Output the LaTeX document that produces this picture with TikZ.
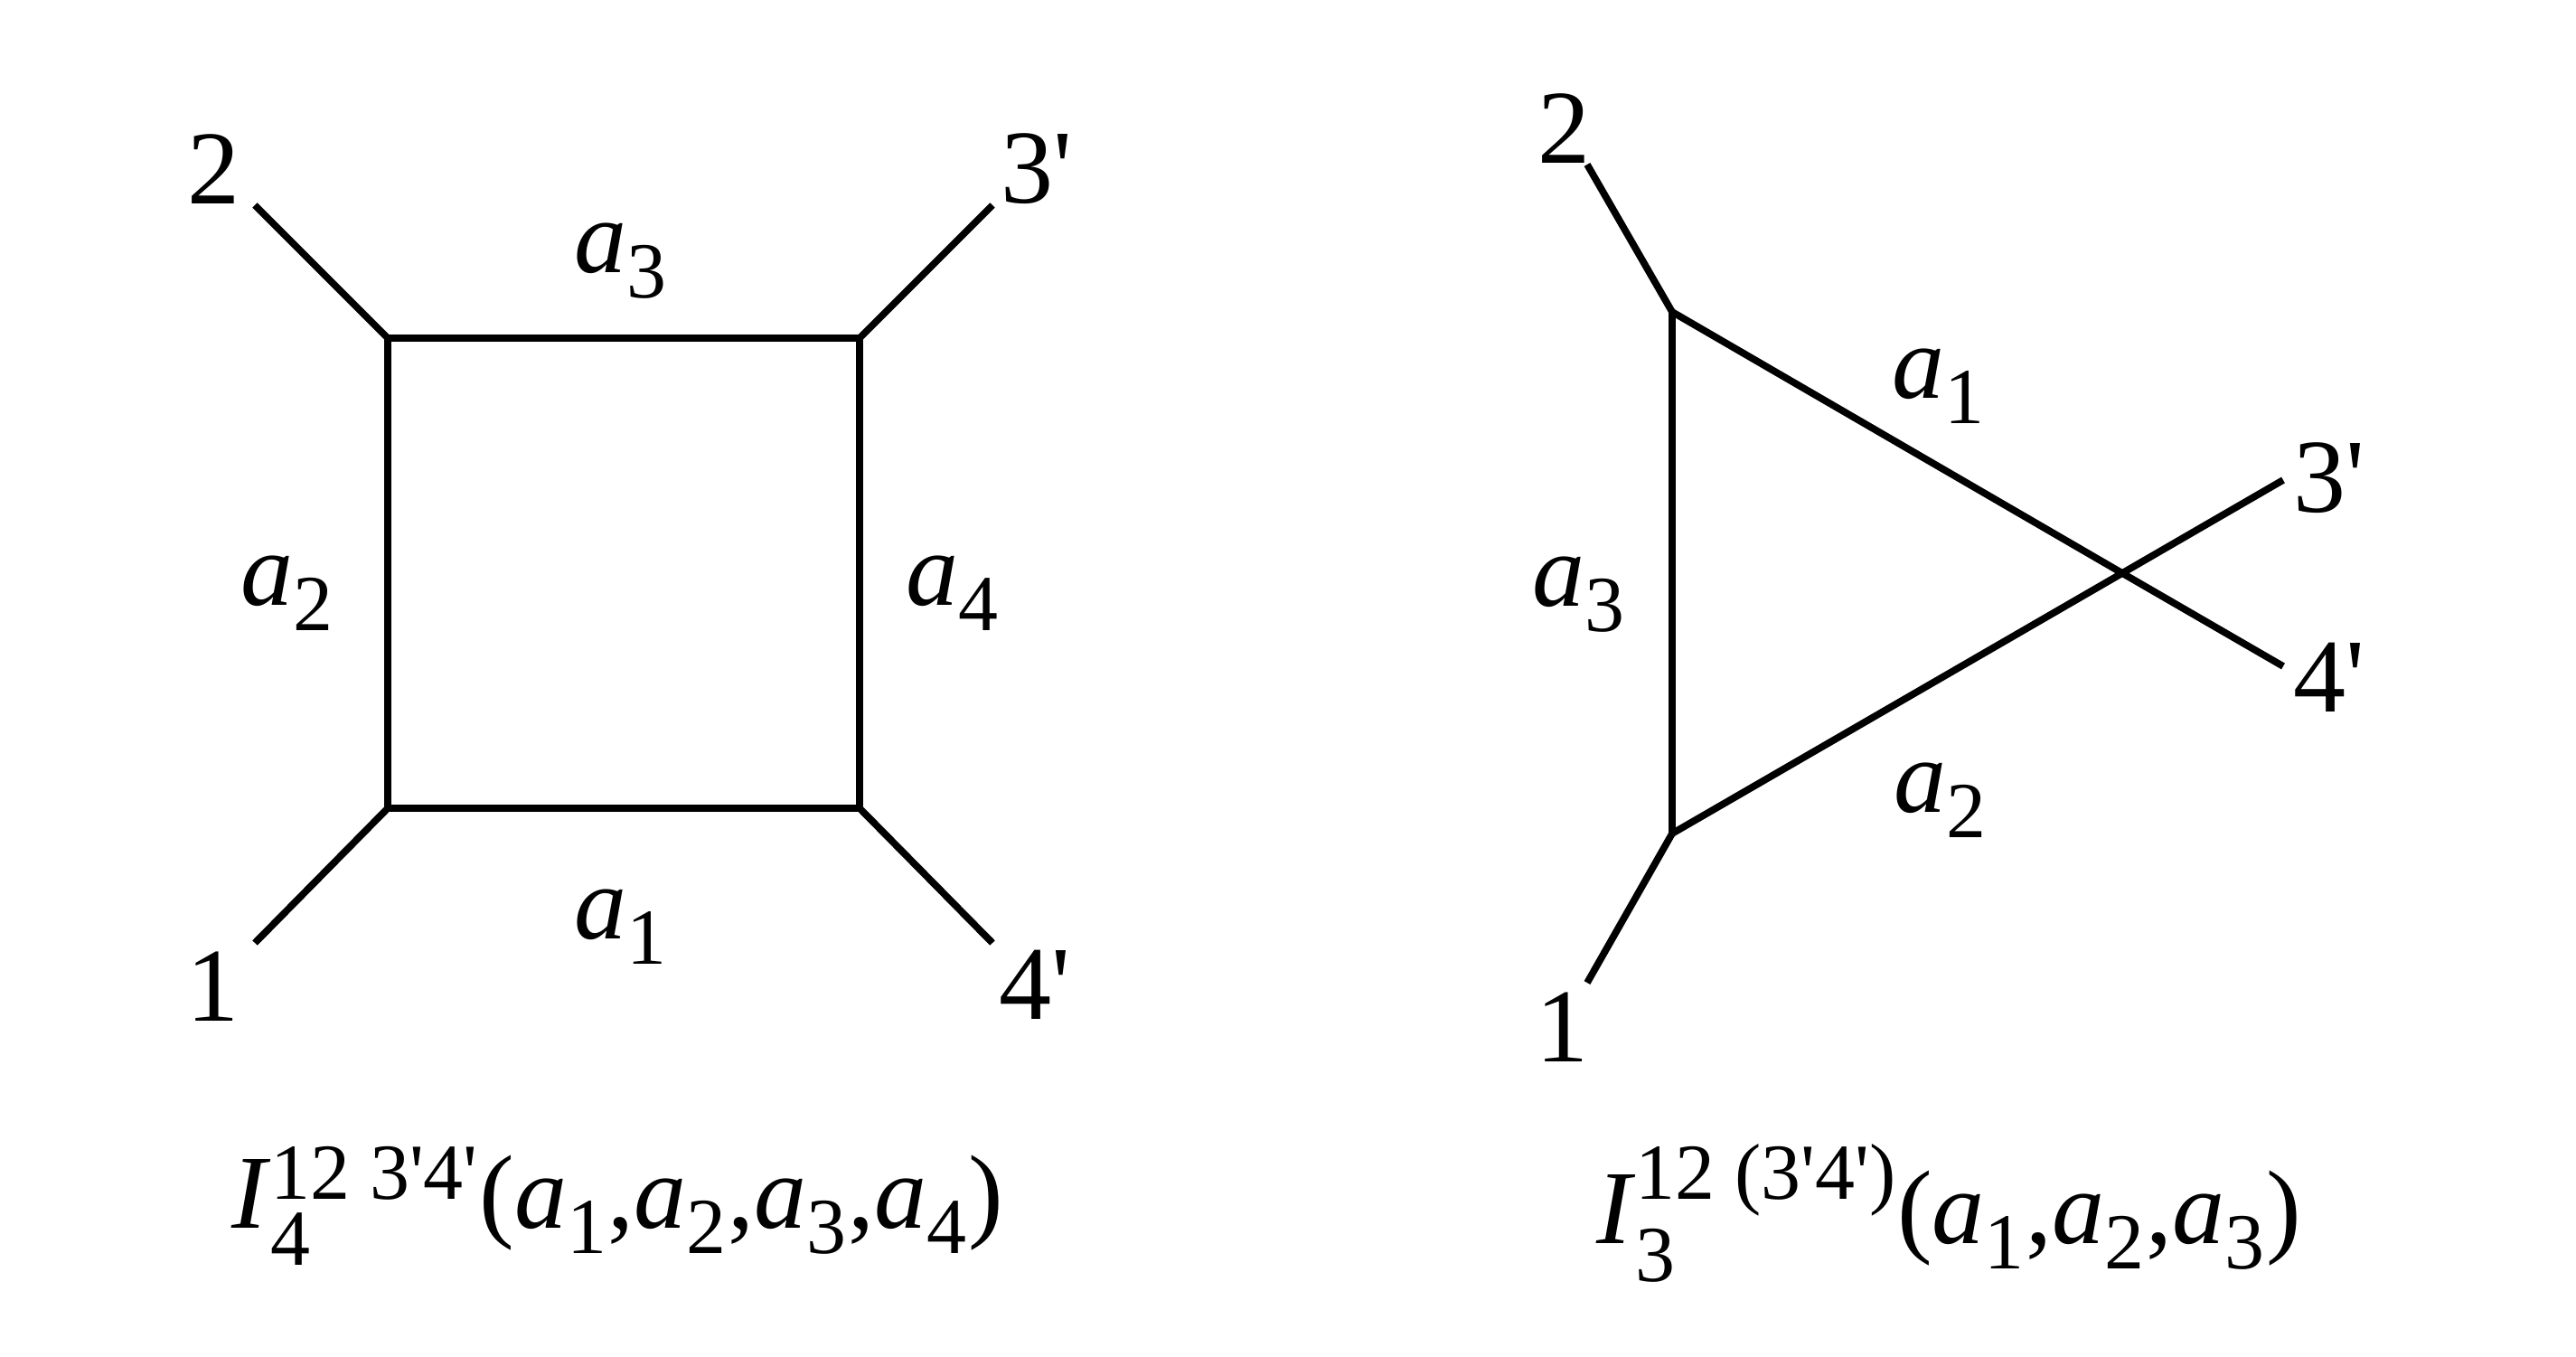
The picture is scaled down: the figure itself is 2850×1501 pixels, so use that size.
\documentclass[tikz,border=0pt]{standalone}
\usepackage{amsmath}
\usepackage{fontspec}
\setmainfont{Liberation Serif}
\DeclareMathSizes{33}{33}{25}{20}
\newcommand{\qtick}{\textquotesingle}
\newcommand{\av}[1]{\textit{a}$_{\text{#1}}$}
\begin{document}
\begin{tikzpicture}[x=0.01cm,y=-0.01cm,
  edge/.style={line width=2.2pt},
  lbl/.style={inner sep=0pt, font=\fontsize{33}{40}\selectfont}]
\useasboundingbox (0,0) rectangle (2850,1501);
% ---- box diagram ----
\coordinate (sTL) at (429,374);
\coordinate (sTR) at (951,374);
\coordinate (sBL) at (429,894);
\coordinate (sBR) at (951,894);
\coordinate (e2) at (282,227);
\coordinate (e3) at (1098,227);
\coordinate (e1) at (282,1043);
\coordinate (e4) at (1098,1043);
\draw[edge, line join=miter] (sTL) -- (sTR) -- (sBR) -- (sBL) -- cycle;
\draw[edge] (sTL) -- (e2);
\draw[edge] (sTR) -- (e3);
\draw[edge] (sBL) -- (e1);
\draw[edge] (sBR) -- (e4);
\node[lbl] (n2) at (237,187) {2};
\node[lbl] (n3) at (1147,187) {3\qtick};
\node[lbl] (n1) at (236,1091) {1};
\node[lbl] (n4) at (1145,1089) {4\qtick};
\node[lbl] (la3) at (687,289) {\av3};
\node[lbl] (la2) at (318,656) {\av2};
\node[lbl] (la4) at (1054,656) {\av4};
\node[lbl] (la1) at (687,1025) {\av1};
\node[lbl] (fL) at (683,1334) {\textit{I}$^{\text{12 3\qtick4\qtick}}_{\text{4}}$(\av1,\av2,\av3,\av4)};
% ---- triangle diagram ----
\coordinate (tT) at (1850,345);
\coordinate (tB) at (1850,922);
\coordinate (tX) at (2348,634);
\coordinate (f2) at (1756,182);
\coordinate (f1) at (1756,1087);
\coordinate (f3) at (2526,531);
\coordinate (f4) at (2526,737);
\draw[edge] (tT) -- (tB);
\draw[edge] (tT) -- (tX) -- (f4);
\draw[edge] (tB) -- (tX) -- (f3);
\draw[edge] (tT) -- (f2);
\draw[edge] (tB) -- (f1);
\node[lbl] (m2) at (1730,142) {2};
\node[lbl] (m1) at (1728,1136) {1};
\node[lbl] (m3) at (2577,529) {3\qtick};
\node[lbl] (m4) at (2577,749) {4\qtick};
\node[lbl] (ta1) at (2145,427) {\av1};
\node[lbl] (ta3) at (1747,658) {\av3};
\node[lbl] (ta2) at (2147,885) {\av2};
\node[lbl] (fR) at (2156,1342) {\textit{I}$^{\text{12 (3\qtick4\qtick)}}_{\text{3}}$(\av1,\av2,\av3)};
\end{tikzpicture}
\end{document}
